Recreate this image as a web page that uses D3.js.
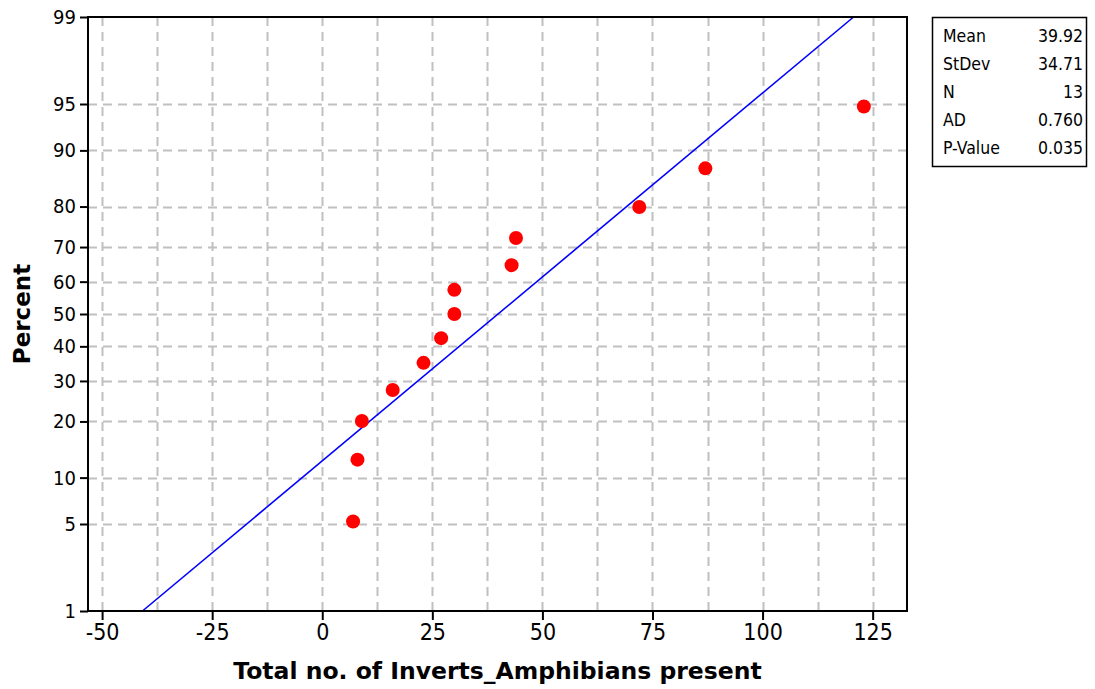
<!DOCTYPE html>
<html>
<head>
<meta charset="utf-8">
<script src="https://cdn.jsdelivr.net/npm/d3@7"></script>
<style>
  html, body { margin: 0; padding: 0; background: #fff; }
  svg { display: block; }
  text { font-family: "DejaVu Sans", Verdana, sans-serif; fill: #000; }
</style>
</head>
<body>
<svg id="chart" width="1095" height="689"></svg>
<script>
// ---- data ----
const values = [7, 8, 9, 16, 23, 27, 30, 30, 43, 44, 72, 87, 123];
const percents = [5.2, 12.7, 20.1, 27.6, 35.1, 42.5, 50.0, 57.5, 64.9, 72.4, 79.9, 87.3, 94.8];
const xTicks = [-50, -25, 0, 25, 50, 75, 100, 125];
const xGrid = [-50, -37.5, -25, -12.5, 0, 12.5, 25, 37.5, 50, 62.5, 75, 87.5, 100, 112.5, 125];
const yTicks = [1, 5, 10, 20, 30, 40, 50, 60, 70, 80, 90, 95, 99];
const yGrid = [5, 10, 20, 30, 40, 50, 60, 70, 80, 90, 95];
const statLabels = ["Mean", "StDev", "N", "AD", "P-Value"];
const statValues = ["39.92", "34.71", "13", "0.760", "0.035"];
const fitMean = 39.92, fitSd = 34.71;
const xTitle = "Total no. of Inverts_Amphibians present";
const yTitle = "Percent";

// inverse normal CDF (Acklam)
function probit(p) {
  const a = [-3.969683028665376e+01, 2.209460984245205e+02, -2.759285104469687e+02, 1.383577518672690e+02, -3.066479806614716e+01, 2.506628277459239e+00];
  const b = [-5.447609879822406e+01, 1.615858368580409e+02, -1.556989798598866e+02, 6.680131188771972e+01, -1.328068155288572e+01];
  const c = [-7.784894002430293e-03, -3.223964580411365e-01, -2.400758277161838e+00, -2.549732539343734e+00, 4.374664141464968e+00, 2.938163982698783e+00];
  const d = [7.784695709041462e-03, 3.224671290700398e-01, 2.445134137142996e+00, 3.754408661907416e+00];
  const pl = 0.02425, ph = 1 - pl;
  let q, r;
  if (p < pl) { q = Math.sqrt(-2 * Math.log(p)); return (((((c[0]*q+c[1])*q+c[2])*q+c[3])*q+c[4])*q+c[5]) / ((((d[0]*q+d[1])*q+d[2])*q+d[3])*q+1); }
  if (p > ph) { q = Math.sqrt(-2 * Math.log(1 - p)); return -(((((c[0]*q+c[1])*q+c[2])*q+c[3])*q+c[4])*q+c[5]) / ((((d[0]*q+d[1])*q+d[2])*q+d[3])*q+1); }
  q = p - 0.5; r = q * q;
  return (((((a[0]*r+a[1])*r+a[2])*r+a[3])*r+a[4])*r+a[5])*q / (((((b[0]*r+b[1])*r+b[2])*r+b[3])*r+b[4])*r+1);
}

const L = 88, R = 907, T = 17, B = 611;
const svg = d3.select("#chart");
const condensed = "DejaVu Sans Condensed, DejaVu Sans, sans-serif";

const x = d3.scaleLinear().domain([-53.2, 132.8]).range([L, R]);
const z = d3.scaleLinear().domain([probit(0.01), probit(0.99)]).range([B, T]);
const y = pct => z(probit(pct / 100));

// grid
const grid = svg.append("g").attr("stroke", "#c0c0c0").attr("stroke-width", 2).attr("stroke-dasharray", "9,6");
grid.selectAll("line.vx").data(xGrid).join("line")
  .attr("x1", d => Math.round(x(d)) + 0.5).attr("x2", d => Math.round(x(d)) + 0.5)
  .attr("y1", T).attr("y2", B);
grid.selectAll("line.hy").data(yGrid).join("line")
  .attr("y1", d => Math.round(y(d)) + 0.5).attr("y2", d => Math.round(y(d)) + 0.5)
  .attr("x1", L).attr("x2", R);

// fitted line
const pLine = [1, 99];
svg.append("line")
  .attr("x1", x(fitMean + probit(pLine[0] / 100) * fitSd)).attr("y1", y(pLine[0]))
  .attr("x2", x(fitMean + probit(pLine[1] / 100) * fitSd)).attr("y2", y(pLine[1]))
  .attr("stroke", "#0000ff").attr("stroke-width", 1.6);

// points
svg.append("g").selectAll("circle").data(values).join("circle")
  .attr("cx", d => x(d)).attr("cy", (d, i) => y(percents[i]))
  .attr("r", 7).attr("fill", "#ff0000");

// frame
svg.append("rect").attr("x", L).attr("y", T).attr("width", R - L).attr("height", B - T)
  .attr("fill", "none").attr("stroke", "#000").attr("stroke-width", 2);

// axes
const xAxis = d3.axisBottom(x).tickValues(xTicks).tickSize(9).tickPadding(4).tickFormat(d => String(d));
const gx = svg.append("g").attr("transform", `translate(0,${B})`).call(xAxis);
gx.select(".domain").remove();
gx.selectAll("line").attr("stroke-width", 2);
gx.selectAll("text").attr("font-size", 23).style("font-family", condensed);

const yAxis = d3.axisLeft(z).tickValues(yTicks.map(t => probit(t / 100))).tickSize(8).tickPadding(4)
  .tickFormat((d, i) => yTicks[i]);
const gy = svg.append("g").attr("transform", `translate(${L},0)`).call(yAxis);
gy.select(".domain").remove();
gy.selectAll("line").attr("stroke-width", 2);
gy.selectAll("text").attr("font-size", 20).style("font-family", condensed);

// titles
svg.append("text").attr("x", (L + R) / 2).attr("y", 679).attr("text-anchor", "middle")
  .attr("font-size", 23.5).attr("font-weight", "bold").text(xTitle);
svg.append("text").attr("transform", `translate(30,${(T + B) / 2}) rotate(-90)`).attr("text-anchor", "middle")
  .attr("font-size", 23).attr("font-weight", "bold").text(yTitle);

// stats box
const bx = 932, by = 17, bw = 154, bh = 149;
svg.append("rect").attr("x", bx + 0.5).attr("y", by + 0.5).attr("width", bw).attr("height", bh)
  .attr("fill", "#fff").attr("stroke", "#000").attr("stroke-width", 1.5);
const rows = svg.append("g").selectAll("g").data(statLabels).join("g");
rows.append("text").attr("x", bx + 11).attr("y", (d, i) => by + 25 + i * 28)
  .attr("font-size", 17.5).style("font-family", condensed).text(d => d);
rows.append("text").attr("x", bx + bw - 3).attr("y", (d, i) => by + 25 + i * 28).attr("text-anchor", "end")
  .attr("font-size", 17.5).style("font-family", condensed).text((d, i) => statValues[i]);
</script>
</body>
</html>
